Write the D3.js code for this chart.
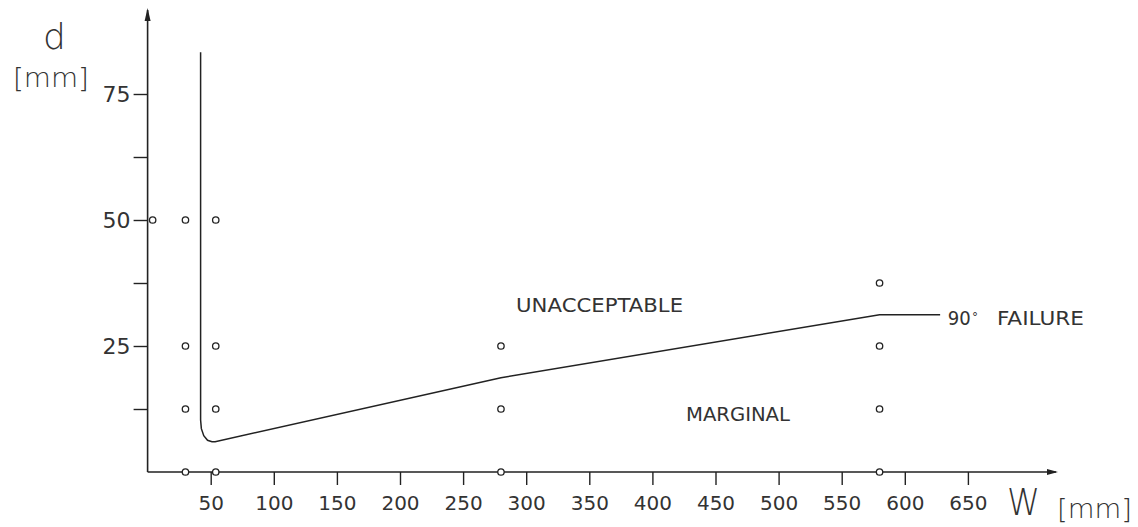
<!DOCTYPE html>
<html>
<head>
<meta charset="utf-8">
<script src="https://cdn.jsdelivr.net/npm/d3@7"></script>
<style>
  html, body { margin: 0; padding: 0; background: #fff; }
  text { font-family: 'DejaVu Sans', sans-serif; fill: #333; }
</style>
</head>
<body>
<script>
(function (d3) {
  'use strict';

  // tested specimens (W, d)
  const pointW = [4, 30, 30, 30, 30, 54, 54, 54, 54, 280, 280, 280, 580, 580, 580, 580];
  const pointD = [50, 0, 12.5, 25, 50, 0, 12.5, 25, 50, 0, 12.5, 25, 0, 12.5, 25, 37.5];

  // boundary curve between unacceptable / marginal
  const curveW = [42, 42, 42.6, 44.5, 47.5, 51, 53.5, 280, 580, 628];
  const curveD = [83.3, 10.3, 8.6, 7.2, 6.3, 6.0, 6.0, 18.7, 31.2, 31.2];

  const xTicks = [50, 100, 150, 200, 250, 300, 350, 400, 450, 500, 550, 600, 650];
  const yTicks = [12.5, 25, 37.5, 50, 62.5, 75];
  const yLabels = [25, 50, 75];

  const width = 1138;
  const height = 527;

  const svg = d3.select('body')
    .append('svg')
    .attr('width', width)
    .attr('height', height);

  const x = d3.scaleLinear().domain([0, 650]).range([147.6, 147.6 + 650 * 1.262]);
  const y = d3.scaleLinear().domain([0, 75]).range([472, 472 - 75 * 5.04]);

  const ink = '#222';

  // x axis
  const gx = svg.append('g')
    .attr('transform', `translate(0,${y(0)})`)
    .call(d3.axisBottom(x).tickValues(xTicks).tickSize(13).tickSizeOuter(0).tickPadding(11));
  gx.select('.domain').remove();
  gx.selectAll('.tick line').attr('stroke', ink).attr('stroke-width', 1.4);
  gx.selectAll('.tick text').style('font-size', '20px').attr('fill', '#333');

  // y axis
  const gy = svg.append('g')
    .attr('transform', `translate(${x(0)},0)`)
    .call(d3.axisLeft(y).tickValues(yTicks).tickSize(14).tickSizeOuter(0).tickPadding(3)
      .tickFormat((d) => (yLabels.includes(d) ? d : '')));
  gy.select('.domain').remove();
  gy.selectAll('.tick line').attr('stroke', ink).attr('stroke-width', 1.4);
  gy.selectAll('.tick text').style('font-size', '22px').attr('fill', '#333');

  // axis lines with arrows
  svg.append('path')
    .attr('d', `M${x(0)},${y(0)}V10M${x(0)},${y(0)}H1056`)
    .attr('fill', 'none')
    .attr('stroke', ink)
    .attr('stroke-width', 1.6);
  svg.append('path')
    .attr('d', `M1058,${y(0)}l-11,-3v6z`)
    .attr('fill', ink);
  svg.append('path')
    .attr('d', `M${x(0)},8l-3,13h6z`)
    .attr('fill', ink);

  // boundary curve
  const line = d3.line()
    .x((i) => x(curveW[i]))
    .y((i) => y(curveD[i]))
    .curve(d3.curveLinear);
  svg.append('path')
    .attr('d', line(d3.range(curveW.length)))
    .attr('fill', 'none')
    .attr('stroke', ink)
    .attr('stroke-width', 1.5);

  // specimens
  svg.selectAll('circle.pt')
    .data(d3.range(pointW.length))
    .join('circle')
    .attr('class', 'pt')
    .attr('cx', (i) => x(pointW[i]))
    .attr('cy', (i) => y(pointD[i]))
    .attr('r', 3.2)
    .attr('fill', '#fff')
    .attr('stroke', ink)
    .attr('stroke-width', 1.3);

  // labels
  const label = (txt, px, py, size, len) => {
    const t = svg.append('text')
      .attr('x', px)
      .attr('y', py)
      .style('font-size', size + 'px')
      .text(txt);
    if (len) t.attr('textLength', len).attr('lengthAdjust', 'spacingAndGlyphs');
    return t;
  };

  label('UNACCEPTABLE', x(292), y(31.7), 20, 167);
  label('MARGINAL', x(426.6), y(10.1), 20, 104);
  label('90', x(634), y(29.2), 20, 23);
  label('°', 972, y(29.2) - 4, 12);
  label('FAILURE', x(673), y(29.2), 20, 87);

  label('d', 43, 49, 36).style('font-weight', 200);
  label('[mm]', 13, 87, 26, 76).style('font-weight', 200);
  label('W', 1007, 515, 38, 33).style('font-weight', 200);
  label('[mm]', 1057, 518, 26, 75).style('font-weight', 200);

})(d3);
</script>
</body>
</html>
